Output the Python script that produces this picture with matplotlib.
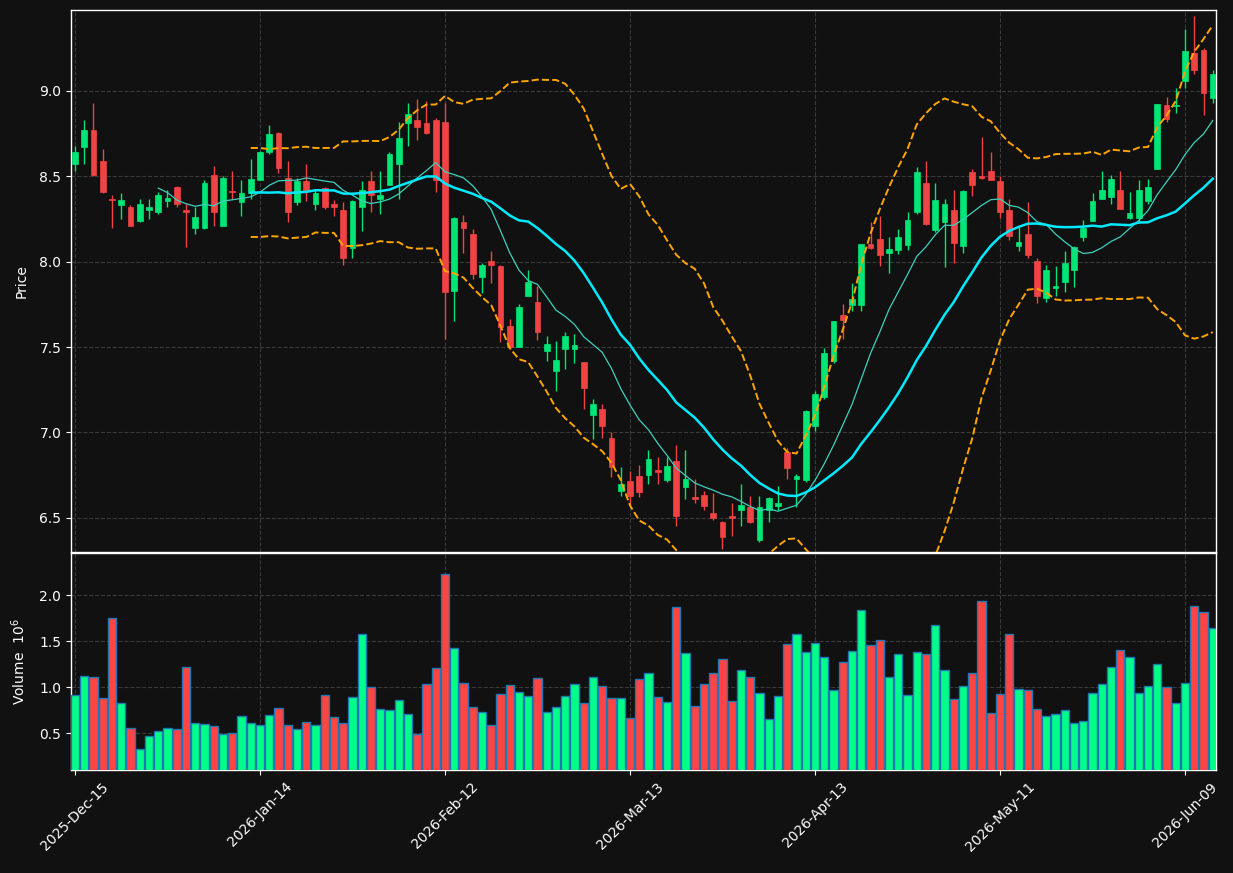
import numpy as np
import pandas as pd
import matplotlib
matplotlib.use("Agg")
import matplotlib.pyplot as plt

# ---- data (trading days, NYSE calendar) ----
START = "2025-12-15"
HOLIDAYS = ["2025-12-25", "2026-01-01", "2026-01-19", "2026-02-16",
            "2026-04-03", "2026-05-25"]

opens = [8.57, 8.67, 8.77, 8.59, 8.365, 8.33, 8.32, 8.24, 8.30, 8.29,
         8.355, 8.44, 8.30, 8.20, 8.20, 8.51, 8.21, 8.415, 8.35, 8.40,
         8.48, 8.64, 8.755, 8.49, 8.35, 8.47, 8.34, 8.43, 8.335, 8.30,
         8.08, 8.32, 8.47, 8.37, 8.45, 8.57, 8.81, 8.83, 8.81, 8.83,
         8.82, 7.83, 8.235, 8.16, 7.91, 8.005, 7.975, 7.625, 7.50, 7.80,
         7.765, 7.48, 7.36, 7.49, 7.49, 7.41, 7.10, 7.14, 6.965, 6.655,
         6.715, 6.745, 6.75, 6.78, 6.72, 6.83, 6.68, 6.62, 6.635, 6.53,
         6.475, 6.51, 6.545, 6.565, 6.37, 6.545, 6.57, 6.885, 6.725, 6.72,
         7.04, 7.21, 7.42, 7.685, 7.745, 7.745, 8.105, 8.135, 8.05, 8.07,
         8.10, 8.29, 8.46, 8.185, 8.23, 8.30, 8.09, 8.525, 8.50, 8.53,
         8.475, 8.30, 8.09, 8.165, 8.005, 7.79, 7.845, 7.88, 7.95, 8.145,
         8.24, 8.37, 8.38, 8.42, 8.255, 8.255, 8.355, 8.54, 8.92, 8.91,
         9.06, 9.22, 9.24, 8.96]
highs = [8.68, 8.83, 8.93, 8.66, 8.39, 8.40, 8.33, 8.37, 8.37, 8.41,
         8.42, 8.445, 8.34, 8.32, 8.48, 8.56, 8.50, 8.53, 8.48, 8.60,
         8.65, 8.80, 8.76, 8.59, 8.49, 8.57, 8.42, 8.435, 8.36, 8.35,
         8.36, 8.47, 8.53, 8.53, 8.645, 8.82, 8.93, 8.95, 8.94, 8.84,
         8.93, 8.26, 8.275, 8.19, 7.995, 8.06, 7.98, 7.665, 7.75, 7.95,
         7.86, 7.565, 7.535, 7.59, 7.575, 7.415, 7.195, 7.165, 7.00, 6.80,
         6.775, 6.81, 6.895, 6.855, 6.855, 6.925, 6.895, 6.73, 6.66, 6.645,
         6.48, 6.585, 6.70, 6.63, 6.63, 6.62, 6.685, 6.91, 6.755, 7.13,
         7.24, 7.495, 7.655, 7.755, 7.875, 8.105, 8.23, 8.27, 8.145, 8.19,
         8.29, 8.555, 8.59, 8.46, 8.37, 8.42, 8.42, 8.54, 8.73, 8.64,
         8.50, 8.37, 8.205, 8.35, 8.02, 7.98, 7.975, 8.06, 8.09, 8.245,
         8.40, 8.53, 8.51, 8.53, 8.41, 8.48, 8.485, 8.925, 8.965, 9.02,
         9.36, 9.44, 9.25, 9.12]
lows = [8.53, 8.57, 8.50, 8.40, 8.20, 8.25, 8.21, 8.23, 8.25, 8.28,
        8.32, 8.32, 8.085, 8.16, 8.19, 8.21, 8.21, 8.365, 8.27, 8.37,
        8.48, 8.63, 8.52, 8.23, 8.33, 8.355, 8.30, 8.31, 8.27, 7.98,
        8.02, 8.18, 8.29, 8.28, 8.45, 8.37, 8.68, 8.71, 8.75, 8.41,
        7.55, 7.65, 8.05, 7.90, 7.815, 7.875, 7.53, 7.49, 7.50, 7.80,
        7.54, 7.42, 7.24, 7.37, 7.405, 7.14, 6.96, 6.97, 6.74, 6.63,
        6.575, 6.625, 6.70, 6.70, 6.71, 6.455, 6.61, 6.585, 6.545, 6.49,
        6.32, 6.395, 6.455, 6.47, 6.36, 6.475, 6.545, 6.73, 6.565, 6.71,
        7.01, 7.195, 7.405, 7.55, 7.71, 7.71, 8.075, 7.975, 7.935, 8.045,
        8.07, 8.28, 8.215, 8.175, 7.97, 7.99, 8.05, 8.385, 8.485, 8.48,
        8.255, 8.13, 8.065, 8.02, 7.76, 7.765, 7.80, 7.82, 7.85, 8.12,
        8.24, 8.37, 8.335, 8.31, 8.25, 8.225, 8.34, 8.54, 8.82, 8.87,
        9.02, 9.10, 8.86, 8.93]
closes = [8.64, 8.77, 8.51, 8.41, 8.36, 8.36, 8.21, 8.34, 8.32, 8.39,
          8.375, 8.34, 8.29, 8.26, 8.46, 8.29, 8.49, 8.41, 8.40, 8.485,
          8.64, 8.75, 8.55, 8.29, 8.47, 8.42, 8.40, 8.32, 8.32, 8.02,
          8.355, 8.42, 8.39, 8.39, 8.63, 8.725, 8.865, 8.79, 8.755, 8.48,
          7.82, 8.255, 8.20, 7.93, 7.98, 7.98, 7.62, 7.50, 7.735, 7.88,
          7.59, 7.52, 7.425, 7.565, 7.51, 7.26, 7.165, 7.04, 6.795, 6.70,
          6.63, 6.65, 6.845, 6.77, 6.805, 6.51, 6.73, 6.61, 6.57, 6.50,
          6.39, 6.50, 6.575, 6.475, 6.565, 6.615, 6.585, 6.79, 6.745, 7.125,
          7.225, 7.465, 7.655, 7.66, 7.78, 8.105, 8.08, 8.04, 8.075, 8.145,
          8.245, 8.525, 8.22, 8.36, 8.335, 8.11, 8.415, 8.45, 8.49, 8.48,
          8.29, 8.15, 8.115, 8.04, 7.80, 7.95, 7.855, 7.995, 8.085, 8.20,
          8.355, 8.42, 8.485, 8.31, 8.285, 8.42, 8.44, 8.925, 8.835, 8.92,
          9.235, 9.12, 8.99, 9.10]
volumes = [0.913, 1.12, 1.109, 0.88, 1.75, 0.826, 0.554, 0.322, 0.467, 0.522,
           0.554, 0.543, 1.217, 0.609, 0.598, 0.576, 0.489, 0.50, 0.685, 0.609,
           0.587, 0.696, 0.772, 0.587, 0.543, 0.62, 0.587, 0.913, 0.674, 0.609,
           0.891, 1.576, 1.0, 0.761, 0.75, 0.859, 0.707, 0.489, 1.033, 1.207,
           2.239, 1.424, 1.043, 0.783, 0.728, 0.587, 0.924, 1.022, 0.946, 0.902,
           1.098, 0.728, 0.783, 0.902, 1.033, 0.826, 1.109, 1.011, 0.88, 0.88,
           0.663, 1.087, 1.152, 0.891, 0.837, 1.87, 1.37, 0.793, 1.033, 1.152,
           1.304, 0.848, 1.185, 1.109, 0.935, 0.652, 0.902, 1.467, 1.576, 1.38,
           1.478, 1.326, 0.967, 1.272, 1.391, 1.837, 1.457, 1.511, 1.109, 1.359,
           0.913, 1.38, 1.359, 1.674, 1.185, 0.87, 1.011, 1.152, 1.935, 0.717,
           0.924, 1.576, 0.978, 0.967, 0.761, 0.685, 0.707, 0.75, 0.609, 0.63,
           0.935, 1.033, 1.217, 1.402, 1.326, 0.935, 1.011, 1.25, 1.0, 0.826,
           1.043, 1.88, 1.815, 1.641]  # millions

MAV_FAST, MAV_SLOW, BB_STD = 10, 20, 2.0
TICK_EVERY = 20

BG = "#111111"
UP, DOWN = "#00e676", "#f04444"
VUP, VDOWN = "#00ff88", "#ff4444"

dates = pd.bdate_range(START, periods=len(closes), freq="C", holidays=HOLIDAYS)
df = pd.DataFrame({"Open": opens, "High": highs, "Low": lows,
                   "Close": closes, "Volume": volumes}, index=dates)
x = np.arange(len(df))
up = (df.Close >= df.Open).to_numpy()

ma_fast = df.Close.rolling(MAV_FAST).mean()
ma_slow = df.Close.rolling(MAV_SLOW).mean()
sd = df.Close.rolling(MAV_SLOW).std()
bb_hi, bb_lo = ma_slow + BB_STD * sd, ma_slow - BB_STD * sd

plt.rcParams.update({"font.family": "DejaVu Sans", "font.size": 10,
                     "text.color": "white", "axes.labelcolor": "white",
                     "xtick.color": "white", "ytick.color": "white"})

fig = plt.figure(figsize=(12.33, 8.73), dpi=100, facecolor=BG)
ax = fig.add_axes([71 / 1233, 1 - 552 / 873, 1145 / 1233, 542 / 873])
axv = fig.add_axes([71 / 1233, 1 - 770 / 873, 1145 / 1233, 217 / 873], sharex=ax)

for a in (ax, axv):
    a.set_facecolor(BG)
    for s in a.spines.values():
        s.set_color("white")
        s.set_linewidth(1.0)
    a.grid(True, color="#3a3a3a", linestyle="--", linewidth=0.8)
    a.set_axisbelow(True)

# candles
cols = np.where(up, UP, DOWN)
ax.vlines(x, df.Low, df.High, colors=cols, linewidth=1.0, zorder=2)
body_lo = np.minimum(df.Open, df.Close)
body_h = np.maximum(np.abs(df.Close - df.Open), 0.004)
ax.bar(x, body_h, bottom=body_lo, width=0.6, color=cols, edgecolor=cols,
       linewidth=0.5, zorder=3)

# moving averages and bollinger bands
ax.plot(x, ma_fast, color="#3fd0bd", linewidth=0.9, zorder=4)
ax.plot(x, ma_slow, color="#00eaff", linewidth=1.8, zorder=4)
ax.plot(x, bb_hi, color="#ffa500", linewidth=1.4, linestyle="--", zorder=4)
ax.plot(x, bb_lo, color="#ffa500", linewidth=1.4, linestyle="--", zorder=4)

ax.set_ylim(6.30, 9.474)
ax.set_xlim(-0.43, len(df) - 0.65)
ax.set_ylabel("Price", labelpad=8)
ax.tick_params(axis="x", labelbottom=False, length=0)

# volume
vcols = np.where(up, VUP, VDOWN)
axv.bar(x, df.Volume, width=0.88, color=vcols, edgecolor="#1f77b4",
        linewidth=1.0, zorder=3)
axv.set_ylim(0.3 * df.Volume.min(), 1.1 * df.Volume.max())
axv.set_yticks([0.5, 1.0, 1.5, 2.0])
axv.set_ylabel("Volume  $10^{6}$", labelpad=8)

ticks = x[::TICK_EVERY]
axv.set_xticks(ticks)
axv.set_xticklabels([d.strftime("%Y-%b-%d") for d in dates[ticks]],
                    rotation=45, ha="center")

fig.savefig("out.png", dpi=100, facecolor=BG)
